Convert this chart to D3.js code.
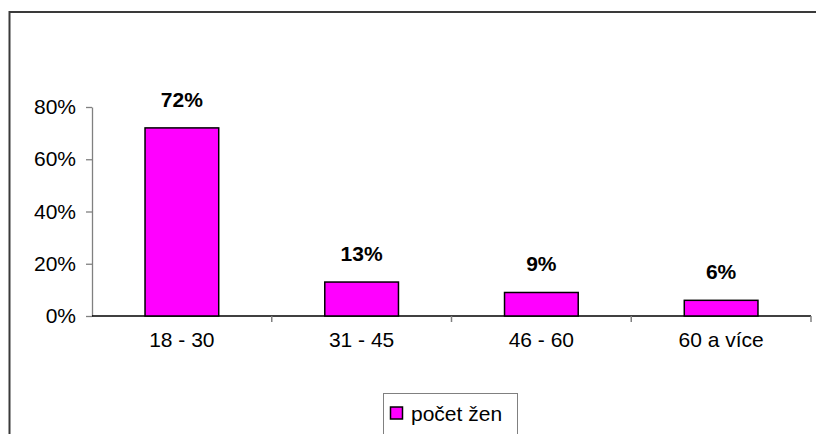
<!DOCTYPE html>
<html>
<head>
<meta charset="utf-8">
<script src="https://cdn.jsdelivr.net/npm/d3@7"></script>
<style>
  body { margin: 0; background: #fff; }
  svg { display: block; font-family: "Liberation Sans", Arial, sans-serif; }
</style>
</head>
<body>
<div id="chart"></div>
<script>
/*
    DATA
*/
let CATEGORIES = ["18 - 30", "31 - 45", "46 - 60", "60 a více"];
let VALUES = [0.72, 0.13, 0.09, 0.06];
let VALUE_LABELS = ["72%", "13%", "9%", "6%"];
let Y_TICKS = [0, 0.2, 0.4, 0.6, 0.8];
let SERIES_NAME = "počet žen";

/*
    LAYOUT
*/
let SIZE = { width: 816, height: 434 };
let PLOT = { left: 92, right: 811, top: 107, bot: 316 };

var svg = d3.select("#chart")
    .append("svg")
    .attr("width", SIZE.width)
    .attr("height", SIZE.height);

// outer chart frame (right and bottom run off the picture)
svg.append("rect")
    .attr("x", 9.5)
    .attr("y", 12)
    .attr("width", 900)
    .attr("height", 600)
    .attr("fill", "none")
    .attr("stroke", "#3a3a3a")
    .attr("stroke-width", 2);

var x = d3.scaleBand()
    .domain(CATEGORIES)
    .range([PLOT.left, PLOT.right])
    .paddingInner(0.59)
    .paddingOuter(0.295);

var xEdges = d3.scaleBand()
    .domain(CATEGORIES)
    .range([PLOT.left, PLOT.right]);

var y = d3.scaleLinear()
    .domain([0, 0.8])
    .range([PLOT.bot, PLOT.top]);

// y axis
var yAxis = svg.append("g")
    .attr("transform", `translate(${PLOT.left}, 0)`)
    .call(d3.axisLeft(y)
        .tickValues(Y_TICKS)
        .tickFormat(d3.format(".0%"))
        .tickSize(6)
        .tickSizeOuter(0)
        .tickPadding(10));
yAxis.select(".domain").attr("stroke", "#808080").attr("stroke-width", 1.3);
yAxis.selectAll(".tick line").attr("stroke", "#808080").attr("stroke-width", 1.3);
yAxis.selectAll(".tick text")
    .attr("fill", "#000")
    .style("font-size", "21px");

// x axis: ticks at category boundaries
var xAxis = svg.append("g")
    .attr("transform", `translate(0, ${PLOT.bot})`);
xAxis.append("line")
    .attr("x1", PLOT.left)
    .attr("x2", PLOT.right)
    .attr("stroke", "#000")
    .attr("stroke-width", 1.5);
xAxis.selectAll("line.tick")
    .data(CATEGORIES.slice(1).concat([null]))
    .enter()
    .append("line")
    .attr("class", "tick")
    .attr("x1", (d, i) => d === null ? PLOT.right : xEdges(d))
    .attr("x2", (d, i) => d === null ? PLOT.right : xEdges(d))
    .attr("y1", 0)
    .attr("y2", 6)
    .attr("stroke", "#808080")
    .attr("stroke-width", 1.5);
xAxis.selectAll("text")
    .data(CATEGORIES)
    .enter()
    .append("text")
    .attr("x", d => xEdges(d) + xEdges.bandwidth() / 2)
    .attr("y", 31)
    .attr("text-anchor", "middle")
    .style("font-size", "21px")
    .text(d => d);

// bars
svg.selectAll("rect.bar")
    .data(VALUES)
    .enter()
    .append("rect")
    .attr("class", "bar")
    .attr("x", (d, i) => x(CATEGORIES[i]))
    .attr("y", d => y(d))
    .attr("width", x.bandwidth())
    .attr("height", d => y(0) - y(d))
    .attr("fill", "#ff00ff")
    .attr("stroke", "#000")
    .attr("stroke-width", 1.5);

// value labels
svg.selectAll("text.val")
    .data(VALUES)
    .enter()
    .append("text")
    .attr("class", "val")
    .attr("x", (d, i) => x(CATEGORIES[i]) + x.bandwidth() / 2)
    .attr("y", d => y(d) - 21)
    .attr("text-anchor", "middle")
    .style("font-size", "21px")
    .style("font-weight", "bold")
    .text((d, i) => VALUE_LABELS[i]);

// legend
var legend = svg.append("g").attr("transform", "translate(383, 393)");
legend.append("rect")
    .attr("x", 0.5)
    .attr("y", 0.5)
    .attr("width", 134)
    .attr("height", 60)
    .attr("fill", "#fff")
    .attr("stroke", "#808080")
    .attr("stroke-width", 1);
legend.append("rect")
    .attr("x", 7.5)
    .attr("y", 14)
    .attr("width", 12)
    .attr("height", 12)
    .attr("fill", "#ff00ff")
    .attr("stroke", "#000")
    .attr("stroke-width", 1.5);
legend.append("text")
    .attr("x", 28)
    .attr("y", 28)
    .style("font-size", "21px")
    .text(SERIES_NAME);
</script>
</body>
</html>
